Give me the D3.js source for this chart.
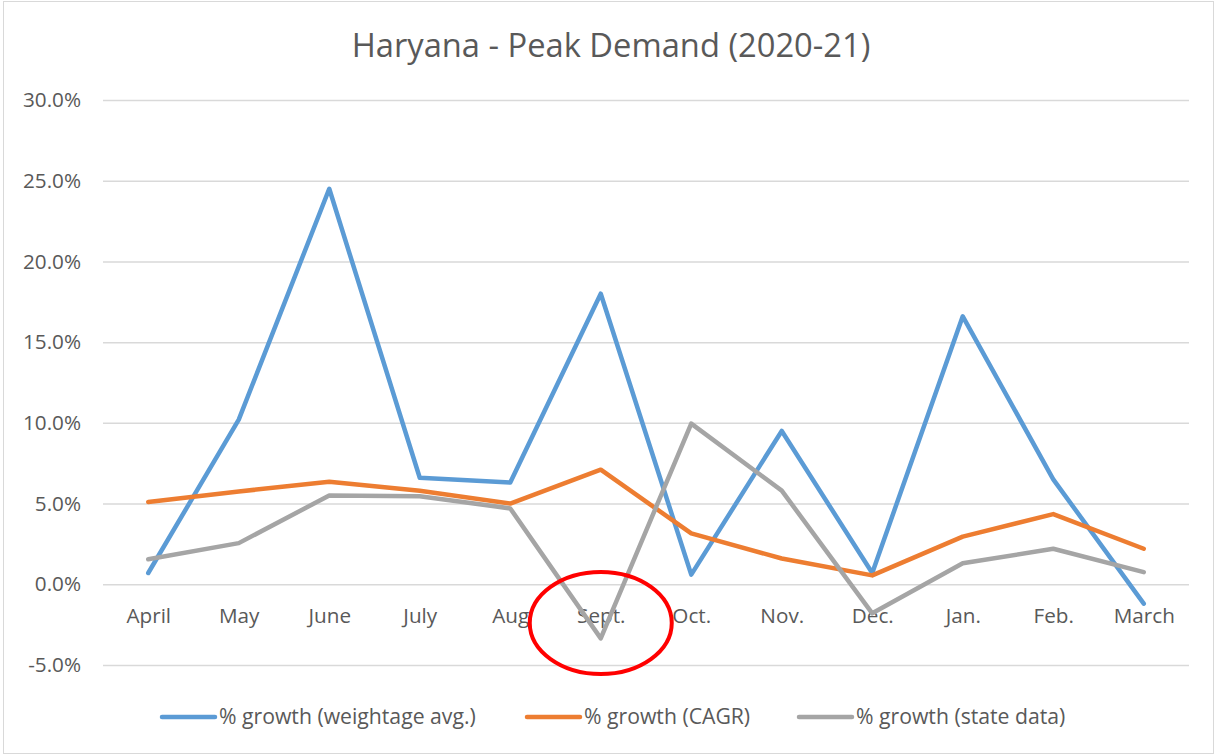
<!DOCTYPE html>
<html>
<head>
<meta charset="utf-8">
<script src="https://cdn.jsdelivr.net/npm/d3@7"></script>
<style>
  body { margin: 0; background: #fff; }
  text { font-family: "Open Sans", "Noto Sans", sans-serif; fill: #595959; }
</style>
</head>
<body>
<div id="chart"></div>
<script>
// data
var months = ["April", "May", "June", "July", "Aug", "Sept.", "Oct.", "Nov.", "Dec.", "Jan.", "Feb.", "March"];
var weightedAvg = [0.7, 10.2, 24.5, 6.6, 6.3, 18.0, 0.6, 9.5, 0.7, 16.6, 6.5, -1.2];
var cagr = [5.1, 5.75, 6.35, 5.8, 5.0, 7.1, 3.15, 1.6, 0.55, 2.95, 4.35, 2.2];
var stateData = [1.55, 2.55, 5.5, 5.45, 4.7, -3.35, 9.95, 5.8, -1.8, 1.3, 2.2, 0.75];
var yTicks = [-5, 0, 5, 10, 15, 20, 25, 30];
var seriesNames = ["% growth (weightage avg.)", "% growth (CAGR)", "% growth (state data)"];
var colors = ["#5B9BD5", "#ED7D31", "#A5A5A5"];

var W = 1218, H = 755;
// plot area (named so they don't clash with window.top)
var plotLeft = 103, plotRight = 1189, plotTop = 100, plotBottom = 665;

var svg = d3.select("#chart").append("svg")
  .attr("width", W)
  .attr("height", H);

// chart border
svg.append("rect")
  .attr("x", 3.5).attr("y", 1.5)
  .attr("width", 1210).attr("height", 752)
  .attr("fill", "none")
  .attr("stroke", "#d9d9d9")
  .attr("stroke-width", 1);

var x = d3.scalePoint()
  .domain(months)
  .range([plotLeft, plotRight])
  .padding(0.5);

var y = d3.scaleLinear()
  .domain([-5, 30])
  .range([plotBottom, plotTop]);

// gridlines
svg.append("g")
  .attr("transform", "translate(" + plotLeft + ",0)")
  .call(d3.axisRight(y).tickValues(yTicks).tickSize(plotRight - plotLeft).tickFormat(""))
  .call(g => g.select(".domain").remove())
  .call(g => g.selectAll("line").attr("stroke", "#d9d9d9").attr("stroke-width", 1.5));

// y labels
svg.append("g")
  .attr("transform", "translate(" + (plotLeft - 22) + ",0)")
  .call(d3.axisLeft(y).tickValues(yTicks).tickSize(0).tickFormat(d => d.toFixed(1) + "%"))
  .call(g => g.select(".domain").remove())
  .call(g => g.selectAll("text").style("font-size", "20.7px").attr("fill", "#595959").attr("x", 0));

// x labels (sit just below the 0% line)
svg.append("g")
  .attr("transform", "translate(0," + y(0) + ")")
  .call(d3.axisBottom(x).tickSize(0))
  .call(g => g.select(".domain").remove())
  .call(g => g.selectAll("text").style("font-size", "20.7px").attr("fill", "#595959").attr("y", 39).attr("dy", 0));

// lines
var line = d3.line()
  .x((d, i) => x(months[i]))
  .y(d => y(d));

[weightedAvg, cagr, stateData].forEach(function (s, i) {
  svg.append("path")
    .datum(s)
    .attr("d", line)
    .attr("fill", "none")
    .attr("stroke", colors[i])
    .attr("stroke-width", 4.5)
    .attr("stroke-linejoin", "round")
    .attr("stroke-linecap", "round");
});

// title
svg.append("text")
  .attr("x", 611)
  .attr("y", 57)
  .attr("text-anchor", "middle")
  .style("font-size", "32.7px")
  .text("Haryana - Peak Demand (2020-21)");

// legend
var legendX = [162, 527, 799];
var lg = svg.append("g");
seriesNames.forEach(function (n, i) {
  lg.append("line")
    .attr("x1", legendX[i]).attr("x2", legendX[i] + 53)
    .attr("y1", 717).attr("y2", 717)
    .attr("stroke", colors[i])
    .attr("stroke-width", 4.5)
    .attr("stroke-linecap", "round");
  lg.append("text")
    .attr("x", legendX[i] + 57)
    .attr("y", 724)
    .style("font-size", "21.2px")
    .text(n);
});

// red circle around Sept.
svg.append("ellipse")
  .attr("cx", x("Sept."))
  .attr("cy", y(-2.4))
  .attr("rx", 71)
  .attr("ry", 51)
  .attr("fill", "none")
  .attr("stroke", "#ff0000")
  .attr("stroke-width", 4);
</script>
</body>
</html>
